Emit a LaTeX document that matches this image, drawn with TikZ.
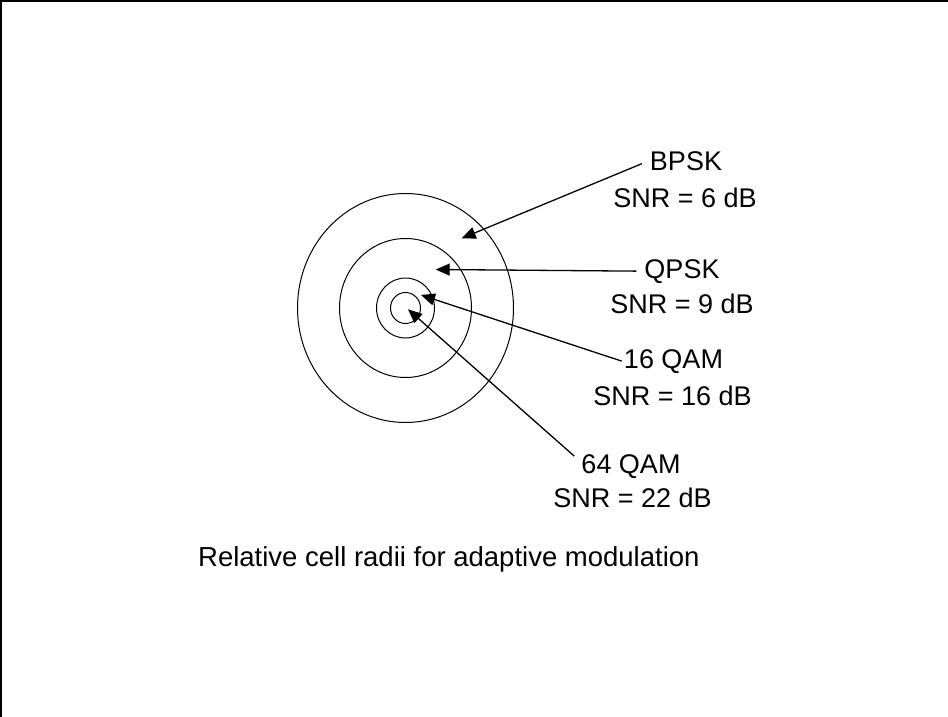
\documentclass[tikz,border=0pt]{standalone}
\usepackage{fontspec}
\setmainfont{Liberation Sans}
\usetikzlibrary{arrows.meta}
\begin{document}
\begin{tikzpicture}[x=1pt,y=-1pt,
  lbl/.style={font=\fontsize{27}{36}\selectfont, inner sep=0pt, anchor=base},
  ring/.style={draw=black, line width=1pt},
  arr/.style={draw=black, line width=1.3pt, -{Triangle[length=14pt,width=12pt]}},
  frame/.style={draw=black, line width=2.5pt}]
\useasboundingbox (0,0) rectangle (948,717);
\fill[white] (0,0) rectangle (948,717);
% frame (top and left only)
\coordinate (tl) at (0,1.2);
\coordinate (tr) at (948,1.2);
\coordinate (lt) at (1,0);
\coordinate (lb) at (1,717);
\draw[frame] (tl) -- (tr);
\draw[frame, line width=2pt] (lt) -- (lb);
% rings
\coordinate (c) at (405.5,308);
\draw[ring] (c) ellipse [x radius=108, y radius=114.5];
\draw[ring] (c) ellipse [x radius=66, y radius=69.5];
\draw[ring] (c) ellipse [x radius=29, y radius=30];
\draw[ring] (c) ellipse [x radius=15, y radius=15.5];
% labels
\node[lbl] (bpsk) at (686,170) {BPSK};
\node[lbl] (bpsksnr) at (685,207) {SNR = 6 dB};
\node[lbl] (qpsk) at (682,278) {QPSK};
\node[lbl] (qpsksnr) at (682,313) {SNR = 9 dB};
\node[lbl] (qam16) at (673.5,368) {16 QAM};
\node[lbl] (qam16snr) at (672.5,405) {SNR = 16 dB};
\node[lbl] (qam64) at (631,473) {64 QAM};
\node[lbl] (qam64snr) at (632.5,507) {SNR = 22 dB};
\node[lbl, anchor=base west, font=\fontsize{27.5}{36}\selectfont] (caption) at (198,566) {Relative cell radii for adaptive modulation};
% arrow tips
\coordinate (tipA) at (461.7,238.3);
\coordinate (tipB) at (435.7,269.5);
\coordinate (tipC) at (421,295);
\coordinate (tipD) at (408,309.3);
\draw[arr] ([shift={(-8,3)}]bpsk.west) -- (tipA);
\draw[arr] ([shift={(-8,0)}]qpsk.west) -- (tipB);
\draw[arr] ([shift={(-2,0)}]qam16.west) -- (tipC);
\draw[arr] ([shift={(-7,-10)}]qam64.west) -- (tipD);
\end{tikzpicture}
\end{document}
